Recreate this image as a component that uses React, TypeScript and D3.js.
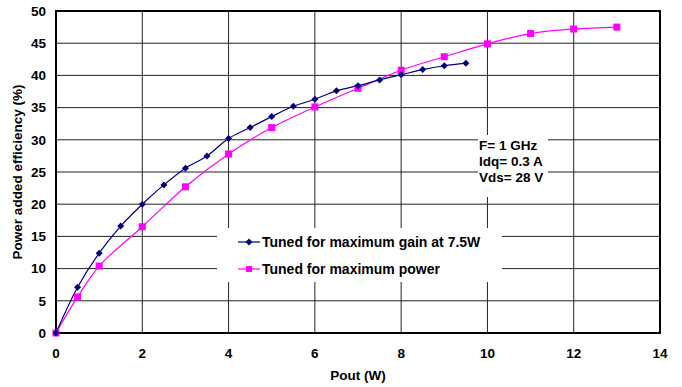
import React from "react";
import * as d3 from "d3";

const xTicks = [0, 2, 4, 6, 8, 10, 12, 14];
const yTicks = [0, 5, 10, 15, 20, 25, 30, 35, 40, 45, 50];

const gainX = [0, 0.5, 1, 1.5, 2, 2.5, 3, 3.5, 4, 4.5, 5, 5.5, 6, 6.5, 7, 7.5, 8, 8.5, 9, 9.5];
const gainY = [0, 7.1, 12.4, 16.6, 20.0, 23.0, 25.6, 27.5, 30.2, 31.9, 33.6, 35.2, 36.3, 37.6, 38.4, 39.3, 40.1, 40.9, 41.5, 41.9];

const powerX = [0, 0.5, 1, 2, 3, 4, 5, 6, 7, 8, 9, 10, 11, 12, 13];
const powerY = [0, 5.6, 10.4, 16.5, 22.7, 27.8, 31.9, 35.1, 38.0, 40.8, 42.9, 44.9, 46.5, 47.2, 47.5];

const legendLabels = ["Tuned for maximum gain at 7.5W", "Tuned for maximum power"];
const noteLines = ["F= 1 GHz", "Idq= 0.3 A", "Vds= 28 V"];

const W = 682, H = 387;
const L = 56, R = 660, T = 11, B = 333;

export default function App() {
  const x = d3.scaleLinear().domain([0, 14]).range([L, R]);
  const y = d3.scaleLinear().domain([0, 50]).range([B, T]);
  const line = d3.line<[number, number]>().x(d => x(d[0])).y(d => y(d[1])).curve(d3.curveCatmullRom.alpha(0.5));
  const gain: [number, number][] = gainX.map((v, i) => [v, gainY[i]]);
  const power: [number, number][] = powerX.map((v, i) => [v, powerY[i]]);
  const font = "'Liberation Sans', Arial, sans-serif";
  const blue = "#000080", pink = "#FF00FF";
  const diamond = (cx: number, cy: number, k: number) =>
    <path key={k} d={`M${cx},${cy - 3.5}L${cx + 3.5},${cy}L${cx},${cy + 3.5}L${cx - 3.5},${cy}Z`} fill={blue} />;
  const square = (cx: number, cy: number, k: number) =>
    <rect key={k} x={cx - 3.5} y={cy - 3.5} width={7} height={7} fill={pink} />;
  return (
    <svg width={W} height={H} style={{ position: "absolute", left: 0, top: 0, fontFamily: font }}>
      <rect width={W} height={H} fill="#fff" />
      {xTicks.slice(1, -1).map(t => <line key={"gx" + t} x1={x(t)} x2={x(t)} y1={T} y2={B} stroke="#222" strokeWidth={1} />)}
      {yTicks.slice(1, -1).map(t => <line key={"gy" + t} x1={L} x2={R} y1={y(t)} y2={y(t)} stroke="#222" strokeWidth={1} />)}
      {/* legend box */}
      <rect x={217} y={228} width={285} height={54} fill="#fff" />
      {/* note box */}
      <rect x={478} y={135} width={70} height={62} fill="#fff" />
      <rect x={L} y={T} width={R - L} height={B - T} fill="none" stroke="#000" strokeWidth={2} />
      {yTicks.map(t => <text key={"yl" + t} x={46} y={y(t)} dy="0.36em" textAnchor="end" fontSize={13.5} fontWeight="bold">{t}</text>)}
      {xTicks.map(t => <text key={"xl" + t} x={x(t)} y={358} textAnchor="middle" fontSize={13.5} fontWeight="bold">{t}</text>)}
      <text x={358} y={380} textAnchor="middle" fontSize={13.5} fontWeight="bold">Pout (W)</text>
      <text transform={`translate(22,${(T + B) / 2}) rotate(-90)`} textAnchor="middle" fontSize={13.5} fontWeight="bold">Power added efficiency (%)</text>
      <path d={line(power) || ""} fill="none" stroke={pink} strokeWidth={1.2} />
      <path d={line(gain) || ""} fill="none" stroke={blue} strokeWidth={1.2} />
      {power.map((d, i) => square(x(d[0]), y(d[1]), i))}
      {gain.map((d, i) => diamond(x(d[0]), y(d[1]), i))}
      {/* legend */}
      <line x1={238} x2={260} y1={242} y2={242} stroke={blue} strokeWidth={1.2} />
      {diamond(249, 242, 100)}
      <text x={262} y={242} dy="0.36em" fontSize={14} fontWeight="bold">{legendLabels[0]}</text>
      <line x1={238} x2={260} y1={269} y2={269} stroke={pink} strokeWidth={1.2} />
      <rect x={246} y={266} width={6} height={6} fill={pink} />
      <text x={262} y={269} dy="0.36em" fontSize={14} fontWeight="bold">{legendLabels[1]}</text>
      {noteLines.map((s, i) => <text key={s} x={479} y={145 + i * 16} dy="0.36em" fontSize={13.5} fontWeight="bold">{s}</text>)}
    </svg>
  );
}
